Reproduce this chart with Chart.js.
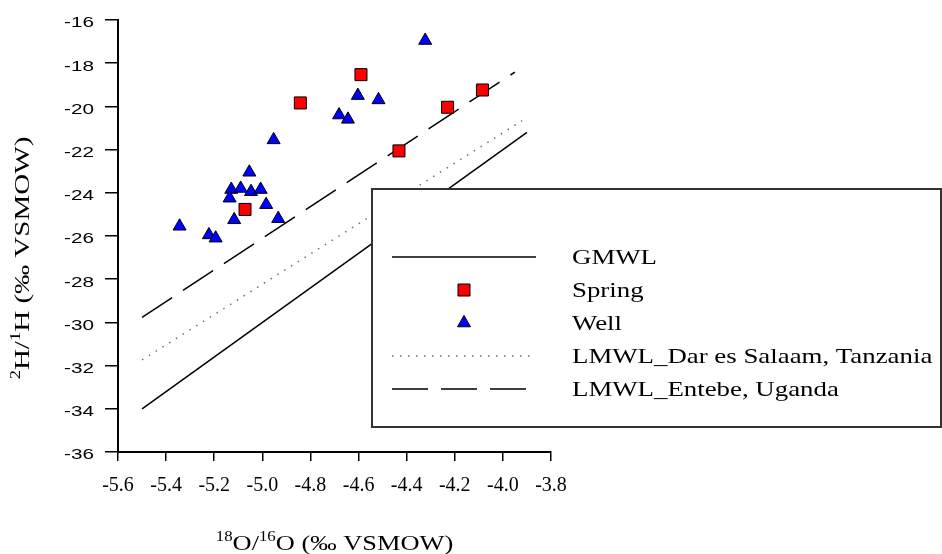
<!DOCTYPE html>
<html>
<head>
<meta charset="utf-8">
<script src="https://cdn.jsdelivr.net/npm/chart.js@4.4.1/dist/chart.umd.min.js"></script>
<style>
  html, body { margin: 0; padding: 0; background: #fff; }
  #wrap { width: 942px; height: 554px; }
</style>
</head>
<body>
<div id="wrap"><canvas id="chart" width="942" height="554"></canvas></div>
<script>
// --- data ---
const springX = [-4.590, -4.842, -4.230, -4.085, -4.432, -5.072];
const springY = [-18.53, -19.84, -20.04, -19.24, -22.06, -24.77];

const wellX = [-4.323, -4.603, -4.517, -4.681, -4.644, -4.953, -5.054,
               -5.129, -5.090, -5.047, -5.007, -5.136, -4.984, -5.117,
               -4.934, -5.344, -5.222, -5.194];
const wellY = [-16.95, -19.50, -19.70, -20.40, -20.60, -21.55, -23.05,
               -23.85, -23.80, -23.95, -23.85, -24.25, -24.55, -25.25,
               -25.20, -25.55, -25.95, -26.10];

const gmwlX = [-5.5, -3.9];
const gmwlY = [-34.0, -21.2];
const darX = [-5.5, -3.92];
const darY = [-31.74, -20.66];
const entebeX = [-5.5, -3.95];
const entebeY = [-29.77, -18.41];

const xTicks = [-5.6, -5.4, -5.2, -5.0, -4.8, -4.6, -4.4, -4.2, -4.0, -3.8];
const yTicks = [-36, -34, -32, -30, -28, -26, -24, -22, -20, -18, -16];

const seriesNames = ["GMWL", "Spring", "Well", "LMWL_Dar es Salaam, Tanzania", "LMWL_Entebe, Uganda"];

const toPoints = (xs, ys) => xs.map((x, i) => ({ x, y: ys[i] }));

const SERIF = "'Liberation Serif', 'Times New Roman', serif";
const SANS = "'Liberation Sans', Arial, sans-serif";

// text drawn slightly wider than the stock fonts, like the original export
function wideText(ctx, str, x, y, sx, align){
  ctx.save();
  ctx.translate(x, y);
  ctx.scale(sx, 1);
  ctx.textAlign = align;
  ctx.fillText(str, 0, 0);
  ctx.restore();
}

// title made of normal + superscript pieces, centred on (0,0) of current transform
function richTitle(ctx, parts, sx){
  const big = "22px " + SERIF, small = "14px " + SERIF;
  let total = 0;
  parts.forEach(p => { ctx.font = p.sup ? small : big; total += ctx.measureText(p.t).width; });
  ctx.save();
  ctx.scale(sx, 1);
  let x = -total / 2;
  ctx.textAlign = "left";
  ctx.textBaseline = "alphabetic";
  parts.forEach(p => {
    ctx.font = p.sup ? small : big;
    ctx.fillText(p.t, x, p.sup ? -9 : 0);
    x += ctx.measureText(p.t).width;
  });
  ctx.restore();
}

const extrasPlugin = {
  id: "extras",
  afterDraw(chart){
    const ctx = chart.ctx;
    const yScale = chart.scales.y;
    const area = chart.chartArea;

    // y tick labels
    ctx.save();
    ctx.fillStyle = "#000";
    ctx.font = "15px " + SANS;
    ctx.textBaseline = "alphabetic";
    yTicks.forEach(v => {
      const py = yScale.getPixelForValue(v);
      wideText(ctx, String(v), 94, py + 7.3, 1.38, "right");
    });
    ctx.restore();

    // axis titles
    ctx.save();
    ctx.fillStyle = "#000";
    ctx.translate((area.left + area.right) / 2, 550);
    richTitle(ctx, [{t:"18", sup:true}, {t:"O/"}, {t:"16", sup:true}, {t:"O (\u2030 VSMOW)"}], 1.2);
    ctx.restore();

    ctx.save();
    ctx.fillStyle = "#000";
    ctx.translate(29, 258);
    ctx.rotate(-Math.PI / 2);
    richTitle(ctx, [{t:"2", sup:true}, {t:"H/"}, {t:"1", sup:true}, {t:"H (\u2030 VSMOW)"}], 1.32);
    ctx.restore();
  },
  afterDatasetsDraw(chart){
    // legend box sitting over the plot, as in the original
    const ctx = chart.ctx;
    const box = { left: 372, top: 189, right: 941, bottom: 427 };
    ctx.save();
    ctx.fillStyle = "#fff";
    ctx.fillRect(box.left, box.top, box.right - box.left, box.bottom - box.top);
    ctx.strokeStyle = "#333";
    ctx.lineWidth = 2;
    ctx.strokeRect(box.left, box.top, box.right - box.left, box.bottom - box.top);

    const rowY = [257, 290, 323, 356, 389];
    const sampleL = 392, sampleR = 536, markX = 464, textX = 572;
    [0, 1, 2, 3, 4].forEach((di, row) => {
      const ds = chart.data.datasets[di];
      const y = rowY[row];
      if (ds.showLine){
        ctx.save();
        ctx.strokeStyle = ds.borderColor;
        ctx.lineWidth = ds.borderWidth;
        ctx.setLineDash(ds.borderDash || []);
        ctx.beginPath();
        ctx.moveTo(sampleL, y);
        ctx.lineTo(sampleR, y);
        ctx.stroke();
        ctx.restore();
      } else {
        ctx.save();
        ctx.fillStyle = ds.backgroundColor;
        ctx.strokeStyle = ds.borderColor;
        ctx.lineWidth = ds.borderWidth;
        Chart.helpers.drawPoint(ctx, {
          pointStyle: ds.pointStyle, radius: ds.pointRadius, rotation: 0, borderWidth: ds.borderWidth
        }, markX, y);
        ctx.restore();
      }
      ctx.fillStyle = "#000";
      ctx.font = "22px " + SERIF;
      ctx.textBaseline = "alphabetic";
      wideText(ctx, seriesNames[di], textX, y + 7.3, 1.22, "left");
    });
    ctx.restore();
  }
};

new Chart(document.getElementById("chart"), {
  type: "scatter",
  data: {
    datasets: [
      { label: seriesNames[0], data: toPoints(gmwlX, gmwlY), showLine: true,
        borderColor: "#000", borderWidth: 1.5, pointRadius: 0, order: 5 },
      { label: seriesNames[1], data: toPoints(springX, springY), showLine: false,
        pointStyle: "rect", pointRadius: 8.5, backgroundColor: "#ff0000",
        borderColor: "#000", borderWidth: 1, order: 1 },
      { label: seriesNames[2], data: toPoints(wellX, wellY), showLine: false,
        pointStyle: "triangle", pointRadius: 7.5, backgroundColor: "#0000ff",
        borderColor: "#000", borderWidth: 1, order: 2 },
      { label: seriesNames[3], data: toPoints(darX, darY), showLine: true,
        borderColor: "#6e6e6e", borderWidth: 1.5, borderDash: [1.5, 6.5], pointRadius: 0, order: 6 },
      { label: seriesNames[4], data: toPoints(entebeX, entebeY), showLine: true,
        borderColor: "#000", borderWidth: 1.5, borderDash: [36, 13], pointRadius: 0, order: 4 }
    ]
  },
  options: {
    responsive: false,
    animation: false,
    layout: { padding: { left: 0, top: 20, right: 391, bottom: 0 } },
    plugins: { legend: { display: false }, tooltip: { enabled: false } },
    scales: {
      x: {
        type: "linear", min: -5.6, max: -3.8,
        afterBuildTicks: s => { s.ticks = xTicks.map(v => ({ value: v })); },
        afterFit: s => { s.height = 102; },
        ticks: {
          color: "#000", padding: 13, maxRotation: 0, autoSkip: false,
          font: { family: SERIF, size: 20 },
          callback: v => Number(v).toFixed(1)
        },
        grid: { drawOnChartArea: false, drawTicks: true, tickLength: 9, color: "#000", lineWidth: 1.5 },
        border: { color: "#000", width: 2 }
      },
      y: {
        type: "linear", min: -36, max: -16,
        afterBuildTicks: s => { s.ticks = yTicks.map(v => ({ value: v })); },
        afterFit: s => { s.width = 118; },
        ticks: { display: false },
        grid: { drawOnChartArea: false, drawTicks: true, tickLength: 13, color: "#000", lineWidth: 1.5 },
        border: { color: "#000", width: 2 }
      }
    }
  },
  plugins: [extrasPlugin]
});
</script>
</body>
</html>
